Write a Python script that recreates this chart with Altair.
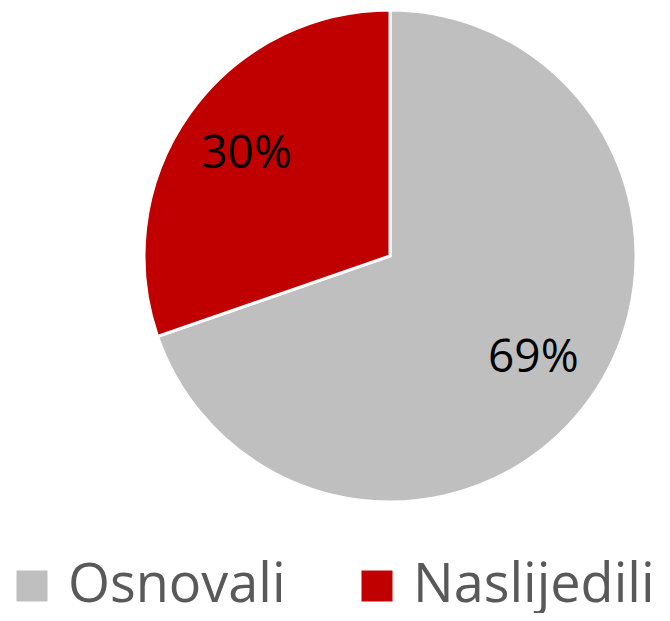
import altair as alt
import pandas as pd

categories = ["Osnovali", "Naslijedili"]
values = [69, 30]
labels = ["69%", "30%"]
order = [1, 2]
colors = ["#BFBFBF", "#C00000"]

df = pd.DataFrame({"cat": categories, "value": values, "label": labels, "ord": order})

FONT = "Open Sans"

base = alt.Chart(df).encode(
    theta=alt.Theta("value:Q", stack=True),
    order=alt.Order("ord:Q"),
)

pie = base.mark_arc(outerRadius=246, stroke="white", strokeWidth=3).encode(
    x=alt.value(382),
    y=alt.value(248),
    color=alt.Color(
        "cat:N",
        scale=alt.Scale(domain=categories, range=colors),
        sort=categories,
        legend=alt.Legend(
            title=None,
            orient="none",
            legendX=-3,
            legendY=551,
            padding=0,
            direction="horizontal",
            symbolType="square",
            symbolSize=961,
            symbolStrokeWidth=0,
            labelFontSize=54,
            labelFont=FONT,
            labelColor="#595959",
            labelOffset=9,
            columnPadding=64,
            labelLimit=400,
        ),
    ),
)

text = base.mark_text(
    radius=176, fontSize=46, font=FONT, color="black", align="center", baseline="middle"
).encode(
    x=alt.value(382),
    y=alt.value(248),
    text="label:N",
)

chart = (
    (pie + text)
    .properties(width=654, height=605, padding=0, autosize="none")
    .configure_view(stroke=None)
)

chart.save("out.html", embed_options={"renderer": "svg", "actions": False})
